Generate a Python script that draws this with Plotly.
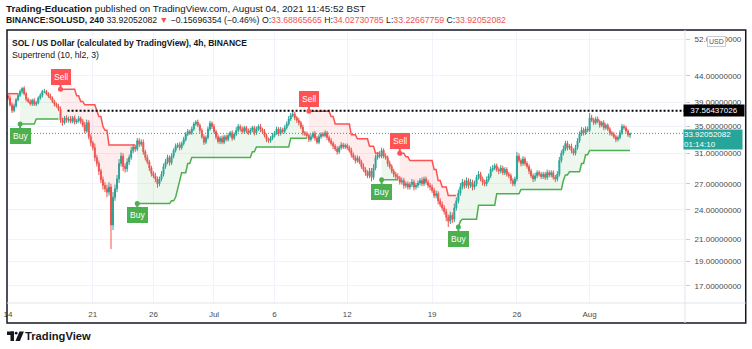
import numpy as np
import pandas as pd
import plotly.graph_objects as go

# ---------------- data ----------------
bar_start = "2021-06-14 00:00"
first_open = 40.2

closes = [
    39.8, 38.6, 37.6, 38.4, 39.5, 40.3,   # Jun 14
    41.0, 41.6, 40.6, 39.6, 39.2, 38.8,   # Jun 15
    39.4, 38.7, 39.0, 39.8, 40.3, 41.0,   # Jun 16
    41.0, 40.6, 40.2, 39.8, 39.2, 38.7,   # Jun 17
    38.4, 37.8, 36.0, 35.6, 36.4, 36.0,   # Jun 18
    36.2, 35.8, 36.4, 35.7, 35.9, 36.3,   # Jun 19
    35.8, 35.2, 34.3, 35.6, 33.4, 32.5,   # Jun 20
    31.8, 30.4, 29.6, 28.6, 27.5, 26.8,   # Jun 21
    26.4, 26.0, 26.6, 22.4, 25.4, 26.4,   # Jun 22
    27.6, 29.6, 30.6, 29.2, 28.9, 29.8,   # Jun 23
    30.4, 31.4, 31.9, 31.6, 32.8, 32.3,   # Jun 24
    32.6, 31.2, 30.4, 29.8, 29.0, 28.3,   # Jun 25
    28.0, 27.6, 27.0, 27.6, 28.2, 29.2,   # Jun 26
    29.8, 30.4, 29.7, 30.6, 31.4, 32.0,   # Jun 27
    32.2, 31.8, 32.4, 33.0, 33.8, 34.2,   # Jun 28
    34.0, 34.6, 35.4, 35.7, 35.2, 34.4,   # Jun 29
    33.4, 32.6, 33.3, 34.6, 35.5, 35.0,   # Jun 30
    34.2, 33.4, 32.7, 33.2, 32.6, 33.4,   # Jul 1
    33.0, 33.6, 34.0, 33.2, 33.8, 34.4,   # Jul 2
    35.0, 34.6, 34.2, 34.8, 34.3, 34.0,   # Jul 3
    34.4, 34.8, 34.0, 34.6, 35.0, 34.5,   # Jul 4
    34.2, 33.6, 33.0, 32.8, 33.2, 33.6,   # Jul 5
    34.0, 34.6, 33.9, 34.5, 34.2, 34.8,   # Jul 6
    35.4, 36.2, 36.8, 37.0, 36.4, 36.0,   # Jul 7
    35.6, 34.9, 34.0, 33.8, 33.6, 33.0,   # Jul 8
    33.4, 33.9, 33.2, 32.6, 33.4, 33.8,   # Jul 9
    33.6, 34.0, 33.3, 32.8, 32.4, 32.0,   # Jul 10
    31.6, 31.2, 31.8, 32.2, 31.9, 32.1,   # Jul 11
    31.8, 31.4, 30.8, 30.4, 30.0, 30.3,   # Jul 12
    29.8, 29.2, 28.8, 28.4, 28.0, 28.6,   # Jul 13
    27.8, 29.0, 30.4, 30.8, 30.6, 31.4,   # Jul 14
    30.6, 30.4, 29.6, 29.2, 28.6, 28.2,   # Jul 15
    27.9, 27.7, 27.2, 27.4, 26.8, 27.0,   # Jul 16
    26.6, 26.9, 27.2, 26.6, 26.8, 27.1,   # Jul 17
    27.4, 27.0, 27.6, 27.2, 26.8, 26.6,   # Jul 18
    26.2, 25.6, 25.8, 25.0, 24.6, 24.2,   # Jul 19
    23.8, 23.2, 22.8, 23.4, 23.0, 24.2,   # Jul 20
    25.0, 25.9, 26.6, 27.2, 26.8, 27.4,   # Jul 21
    26.8, 27.2, 26.6, 27.0, 27.8, 28.2,   # Jul 22
    27.6, 27.2, 27.0, 27.5, 28.0, 28.8,   # Jul 23
    29.0, 29.3, 28.8, 28.6, 29.0, 28.4,   # Jul 24
    28.8, 28.2, 28.0, 27.4, 27.0, 27.6,   # Jul 25
    30.6, 30.0, 29.6, 30.2, 29.6, 29.2,   # Jul 26
    28.6, 28.0, 27.6, 28.0, 28.4, 28.2,   # Jul 27
    27.9, 28.2, 27.8, 28.4, 28.1, 28.4,   # Jul 28
    27.8, 27.6, 28.2, 30.0, 31.0, 31.6,   # Jul 29
    32.4, 31.8, 32.0, 31.4, 31.0, 31.8,   # Jul 30
    32.8, 33.8, 34.4, 34.0, 34.6, 34.4,   # Jul 31
    36.4, 36.0, 35.6, 36.2, 35.8, 35.2,   # Aug 1
    35.6, 34.8, 35.2, 34.6, 34.0, 33.8,   # Aug 2
    33.4, 33.0, 33.3, 34.0, 35.0, 34.8,   # Aug 3
    34.3, 33.68865665, 33.92052082,       # Aug 4
]

upper_wicks = [
    .3, .5, .4, .4, .3, .4,   .4, .2, .4, .3, .3, .4,   .3, .4, .3, .3, .4, .3,
    .5, .3, .3, .4, .3, .3,   .3, .4, .5, .4, .3, .4,   .4, .5, .3, .4, .3, .4,
    .3, .4, .5, .5, .4, .4,   .3, .6, .4, .4, .3, .4,   .4, .5, .6, .4, .6, .5,
    .5, .6, .5, .4, .4, .5,   .4, .5, .4, .3, .4, .4,   .4, .4, .3, .4, .3, .3,
    .3, .4, .3, .3, .4, .4,   .4, .4, .3, .4, .3, .4,   .3, .4, .3, .4, .3, .4,
    .3, .4, .3, .3, .4, .3,   .3, .4, .3, .4, .4, .3,   .4, .3, .4, .3, .4, .3,
    .3, .4, .3, .4, .3, .5,   .4, .3, .4, .3, .3, .4,   .4, .3, .3, .4, .3, .4,
    .3, .4, .3, .3, .3, .4,   .3, .4, .3, .4, .3, .4,   .4, .5, .4, .56, .4, .3,
    .4, .3, .4, .3, .4, .3,   .4, .3, .4, .3, .4, .3,   .3, .4, .3, .3, .4, .3,
    .3, .4, .3, .4, .3, .3,   .3, .3, .4, .3, .3, .4,   .3, .3, .4, .3, .3, .4,
    .4, .5, .4, .4, .5, .4,   .3, .4, .3, .4, .3, .3,   .3, .4, .3, .4, .3, .3,
    .3, .3, .4, .3, .3, .3,   .3, .4, .3, .3, .3, .3,   .3, .3, .4, .3, .3, .3,
    .3, .3, .3, .4, .3, .5,   .4, .4, .5, .4, .3, .4,   .3, .4, .3, .4, .3, .4,
    .3, .3, .3, .4, .3, .4,   .4, .3, .3, .3, .4, .3,   .3, .3, .3, .3, .3, .3,
    .6, .4, .3, .4, .3, .3,   .3, .3, .3, .4, .3, .3,   .3, .3, .3, .4, .3, .3,
    .3, .3, .4, .5, .4, .5,   .4, .4, .3, .4, .3, .4,   .4, .4, .5, .4, .4, .4,
    .8, .5, .4, .4, .4, .3,   .3, .4, .3, .3, .3, .3,   .3, .3, .3, .4, .4, .3,
    .3, .3, .10678703,
]

lower_wicks = [
    .4, .3, .4, .3, .3, .3,   .3, .4, .3, .4, .3, .3,   .4, .3, .3, .3, .3, .4,
    .3, .3, .4, .3, .3, .4,   .3, .3, .4, .5, .3, .4,   .4, .3, .3, .4, .3, .3,
    .4, .3, .4, .3, .4, .5,   .4, .5, .4, .5, .4, .5,   .4, .6, .4, 2.3, .5, .4,
    .4, .5, .4, .6, .5, .4,   .4, .3, .4, .4, .3, .4,   .3, .4, .4, .3, .4, .4,
    .3, .4, .5, .3, .3, .3,   .3, .3, .4, .3, .3, .3,   .3, .4, .3, .3, .3, .3,
    .3, .3, .3, .3, .3, .4,   .3, .4, .3, .3, .3, .4,   .3, .4, .3, .4, .3, .3,
    .3, .3, .3, .4, .3, .3,   .3, .4, .3, .3, .4, .3,   .3, .3, .4, .3, .3, .4,
    .3, .3, .4, .3, .3, .3,   .3, .3, .4, .3, .3, .3,   .3, .3, .3, .3, .4, .4,
    .4, .3, .4, .3, .4, .4,   .3, .3, .4, .3, .3, .3,   .3, .3, .4, .3, .3, .4,
    .3, .4, .3, .3, .3, .3,   .3, .3, .4, .3, .4, .3,   .3, .3, .3, .4, .3, .3,
    .5, .3, .3, .3, .3, .3,   .3, .3, .4, .3, .3, .4,   .3, .3, .3, .3, .4, .3,
    .3, .3, .3, .4, .3, .3,   .3, .3, .3, .3, .3, .4,   .3, .3, .3, .4, .3, .3,
    .3, .4, .6, .3, .4, .3,   .3, .3, .3, .3, .4, .3,   .4, .3, .4, .3, .3, .3,
    .3, .4, .3, .3, .3, .3,   .3, .3, .3, .4, .3, .3,   .3, .3, .3, .4, .3, .3,
    .3, .3, .4, .3, .3, .3,   .4, .3, .4, .3, .3, .3,   .3, .3, .3, .3, .3, .3,
    .3, .4, .3, .3, .3, .3,   .3, .4, .3, .4, .3, .3,   .3, .3, .3, .4, .3, .3,
    .3, .3, .4, .3, .3, .4,   .3, .4, .3, .3, .4, .3,   .3, .4, .3, .3, .3, .3,
    .3, .3, .46197906,
]

# Supertrend (10, hl2, 3) levels: level holds from each time until the next one
st_times = [
    "2021-06-14 00:00", "2021-06-15 00:00", "2021-06-16 08:00", "2021-06-18 08:00",
    "2021-06-19 16:00", "2021-06-20 00:00", "2021-06-20 08:00", "2021-06-21 08:00",
    "2021-06-21 12:00", "2021-06-21 20:00", "2021-06-22 00:00", "2021-06-22 08:00",
    "2021-06-24 16:00", "2021-06-27 12:00", "2021-06-27 20:00", "2021-06-28 00:00",
    "2021-06-28 04:00", "2021-06-28 08:00", "2021-06-28 20:00", "2021-06-29 04:00",
    "2021-07-04 04:00", "2021-07-04 12:00", "2021-07-07 08:00", "2021-07-08 20:00",
    "2021-07-10 16:00", "2021-07-11 00:00", "2021-07-12 08:00", "2021-07-12 20:00",
    "2021-07-13 20:00", "2021-07-14 08:00", "2021-07-14 20:00", "2021-07-16 08:00",
    "2021-07-16 20:00", "2021-07-17 04:00", "2021-07-19 04:00", "2021-07-19 12:00",
    "2021-07-19 20:00", "2021-07-20 08:00", "2021-07-21 04:00", "2021-07-21 08:00",
    "2021-07-21 12:00", "2021-07-22 20:00", "2021-07-24 08:00", "2021-07-26 08:00",
    "2021-07-29 20:00", "2021-07-30 00:00", "2021-07-30 08:00", "2021-07-31 08:00",
    "2021-07-31 16:00", "2021-08-01 00:00",
]
st_levels = [
    40.6, 35.4, 36.2, 41.4, 40.2, 39.2, 38.6, 37.6, 36.6, 35.0, 34.4, 32.2,
    24.7, 25.0, 25.4, 26.3, 27.2, 28.4, 29.6, 30.4, 31.2, 31.9, 33.2, 37.5,
    36.6, 35.4, 33.7, 33.1, 32.0, 31.0, 27.5, 31.0, 30.5, 30.0, 28.8, 27.4,
    26.6, 25.6, 22.2, 22.8, 23.0, 24.5, 25.8, 26.3, 27.4, 28.1, 28.5, 29.6,
    30.8, 31.4,
]
st_trend = [
    "down", "up", "up", "down", "down", "down", "down", "down", "down", "down", "down", "down",
    "up", "up", "up", "up", "up", "up", "up", "up", "up", "up", "up", "down",
    "down", "down", "down", "down", "down", "down", "up", "down", "down", "down", "down", "down",
    "down", "down", "up", "up", "up", "up", "up", "up", "up", "up", "up", "up",
    "up", "up",
]

y_ticks = [17, 19, 21, 24, 27, 31, 35, 39, 44, 52]
x_tick_dates = ["2021-06-14", "2021-06-21", "2021-06-26", "2021-07-01", "2021-07-06",
                "2021-07-12", "2021-07-19", "2021-07-26", "2021-08-01"]
x_tick_text = ["14", "21", "26", "Jul", "6", "12", "19", "26", "Aug"]

hline_level = 37.56437026
hline_start = "2021-06-18 22:00"
last_price = 33.92052082
countdown = "01:14:10"

# ---------------- build ----------------
assert len(closes) == len(upper_wicks) == len(lower_wicks)
n = len(closes)
times = pd.date_range(bar_start, periods=n, freq="4h")
c = np.array(closes)
o = np.concatenate([[first_open], c[:-1]])
h = np.maximum(o, c) + np.array(upper_wicks)
l = np.minimum(o, c) - np.array(lower_wicks)
mid = (o + c) / 2

st_idx = pd.to_datetime(st_times)
st = pd.Series(st_levels, index=st_idx).reindex(times, method="ffill").values
tr = pd.Series(st_trend, index=st_idx).reindex(times, method="ffill").values

x_range = [pd.Timestamp("2021-06-13 22:02"), pd.Timestamp("2021-08-08 20:53")]
y_range = [np.log10(15.74), np.log10(53.92)]

GREEN = "#4caf50"
RED = "#ff5252"
UP = "#26a69a"
DOWN = "#ef5350"
TXT = "#131722"
FONT = "Liberation Sans, Arial, sans-serif"


def px(X):
    return (X - 4) / 681


def py(Y):
    return (303 - Y) / 272


fig = go.Figure()

# supertrend segments with fills to body middle
segs = []
s = 0
for i in range(1, n + 1):
    if i == n or tr[i] != tr[s]:
        segs.append((s, i))
        s = i
for a, b in segs:
    col = GREEN if tr[a] == "up" else RED
    fill = "rgba(76,175,80,0.10)" if tr[a] == "up" else "rgba(255,82,82,0.11)"
    fig.add_trace(go.Scatter(x=times[a:b], y=mid[a:b], mode="lines",
                             line=dict(width=0), hoverinfo="skip", showlegend=False))
    fig.add_trace(go.Scatter(x=times[a:b], y=st[a:b], mode="lines", fill="tonexty",
                             fillcolor=fill, line=dict(color=col, width=1.5),
                             hoverinfo="skip", showlegend=False))

# candles
fig.add_trace(go.Candlestick(
    x=times, open=o, high=h, low=l, close=c, whiskerwidth=0,
    increasing=dict(line=dict(color=UP, width=1), fillcolor=UP),
    decreasing=dict(line=dict(color=DOWN, width=1), fillcolor=DOWN),
    hoverinfo="skip", showlegend=False))

# horizontal lines
fig.add_trace(go.Scatter(x=[pd.Timestamp(hline_start), x_range[1]], y=[hline_level] * 2,
                         mode="lines", line=dict(color="#000000", width=2, dash="2px,2px"),
                         hoverinfo="skip", showlegend=False))
fig.add_trace(go.Scatter(x=x_range, y=[last_price] * 2, mode="lines",
                         line=dict(color=UP, width=1, dash="1px,2px"),
                         hoverinfo="skip", showlegend=False))

annotations = []
# buy / sell signals
for a, b in segs[1:]:
    is_buy = tr[a] == "up"
    col = GREEN if is_buy else RED
    fig.add_trace(go.Scatter(x=[times[a]], y=[st[a]], mode="markers",
                             marker=dict(color=col, size=5), hoverinfo="skip",
                             showlegend=False))
    annotations.append(dict(
        x=times[a], y=np.log10(st[a]), xref="x", yref="y",
        text="Buy" if is_buy else "Sell", showarrow=True, arrowhead=0,
        arrowcolor=col, arrowwidth=2, ax=0, ay=12 if is_buy else -12,
        bgcolor=col, bordercolor=col, borderpad=2,
        font=dict(color="white", size=8.5, family=FONT)))

# header texts
annotations += [
    dict(x=px(4), y=py(8), xref="paper", yref="paper", xanchor="left", yanchor="middle",
         xshift=-3, showarrow=False, font=dict(size=9.8, color=TXT, family=FONT),
         text="<b>Trading-Education</b> published on TradingView.com, August 04, 2021 11:45:52 BST"),
    dict(x=px(4), y=py(20), xref="paper", yref="paper", xanchor="left", yanchor="middle",
         xshift=-3, showarrow=False, font=dict(size=8.7, color=TXT, family=FONT),
         text=("<b>BINANCE:SOLUSD, 240</b> 33.92052082 <span style='color:#ef5350'>▼</span> "
               "−0.15696354 (−0.46%) O:<span style='color:#ef5350'>33.68865665</span> "
               "H:<span style='color:#ef5350'>34.02730785</span> "
               "L:<span style='color:#ef5350'>33.22667759</span> "
               "C:<span style='color:#ef5350'>33.92052082</span>")),
    dict(x=px(10), y=py(43), xref="paper", yref="paper", xanchor="left", yanchor="middle",
         xshift=-3, showarrow=False, font=dict(size=8.5, color=TXT, family=FONT),
         text="<b>SOL / US Dollar (calculated by TradingView), 4h, BINANCE</b>"),
    dict(x=px(10), y=py(55), xref="paper", yref="paper", xanchor="left", yanchor="middle",
         xshift=-3, showarrow=False, font=dict(size=8.7, color=TXT, family=FONT),
         text="Supertrend (10, hl2, 3)"),
    dict(x=px(717), y=py(42), xref="paper", yref="paper", xanchor="center", yanchor="middle",
         showarrow=False, font=dict(size=7, color="#555", family=FONT), text="USD",
         bgcolor="white", bordercolor="#c8cbd2", borderwidth=1, borderpad=1),
    dict(x=px(683), y=np.log10(hline_level), xref="paper", yref="y", xanchor="left",
         yanchor="middle", showarrow=False, text=f"{hline_level:.8f}",
         font=dict(size=8, color="white", family=FONT), bgcolor="#000000",
         width=58, borderpad=1),
    dict(x=px(683), y=np.log10(last_price), xref="paper", yref="y", xanchor="left",
         yanchor="top", yshift=4, showarrow=False, align="left",
         text=f"{last_price:.8f}<br>{countdown}",
         font=dict(size=8, color="white", family=FONT), bgcolor=UP,
         width=58, borderpad=0),
    dict(x=px(22), y=py(336), xref="paper", yref="paper", xanchor="left", yanchor="middle",
         xshift=-2, showarrow=False, font=dict(size=11.2, color=TXT, family=FONT),
         text="<b>TradingView</b>"),
]

shapes = [
    # chart frame
    dict(type="rect", xref="paper", yref="paper", x0=px(4), x1=px(746), y0=py(323), y1=py(30),
         line=dict(color=TXT, width=1.5), layer="above"),
    # price-axis and time-axis separators
    dict(type="line", xref="paper", yref="paper", x0=px(685), x1=px(685), y0=py(323), y1=py(30),
         line=dict(color="#e0e3eb", width=1)),
    dict(type="line", xref="paper", yref="paper", x0=px(4), x1=px(746), y0=py(303), y1=py(303),
         line=dict(color="#e0e3eb", width=1)),
    # TradingView logo
    dict(type="rect", xref="paper", yref="paper", x0=px(4), x1=px(11), y0=py(335), y1=py(331.5),
         fillcolor=TXT, line=dict(width=0)),
    dict(type="rect", xref="paper", yref="paper", x0=px(7.5), x1=px(11), y0=py(341), y1=py(331.5),
         fillcolor=TXT, line=dict(width=0)),
    dict(type="circle", xref="paper", yref="paper", x0=px(11.8), x1=px(14.6), y0=py(334.6), y1=py(331.8),
         fillcolor=TXT, line=dict(width=0)),
    dict(type="path", xref="paper", yref="paper",
         path=f"M {px(16.5)},{py(331.5)} L {px(21)},{py(331.5)} L {px(17)},{py(341)} L {px(12.5)},{py(341)} Z",
         fillcolor=TXT, line=dict(width=0)),
]

fig.update_layout(
    width=752, height=349,
    margin=dict(l=4, r=67, t=31, b=46),
    paper_bgcolor="white", plot_bgcolor="white",
    showlegend=False, hovermode=False,
    font=dict(family=FONT, color=TXT, size=8),
    annotations=annotations, shapes=shapes,
    xaxis=dict(type="date", range=x_range, rangeslider=dict(visible=False),
               tickvals=pd.to_datetime(x_tick_dates), ticktext=x_tick_text,
               showgrid=True, gridcolor="#f0f3fa", gridwidth=1, ticks="",
               ticklabelstandoff=5,
               tickfont=dict(size=8, color="#4a4a4a"), showline=False, zeroline=False),
    yaxis=dict(type="log", range=y_range, side="right",
               tickvals=y_ticks, ticktext=[f"{v:.8f}" for v in y_ticks],
               showgrid=True, gridcolor="#f0f3fa", gridwidth=1,
               ticks="outside", ticklen=4, tickcolor="#c8cbd2", ticklabelstandoff=3,
               tickfont=dict(size=8, color="#4a4a4a"), showline=False, zeroline=False),
)

fig.write_html("out.html")
